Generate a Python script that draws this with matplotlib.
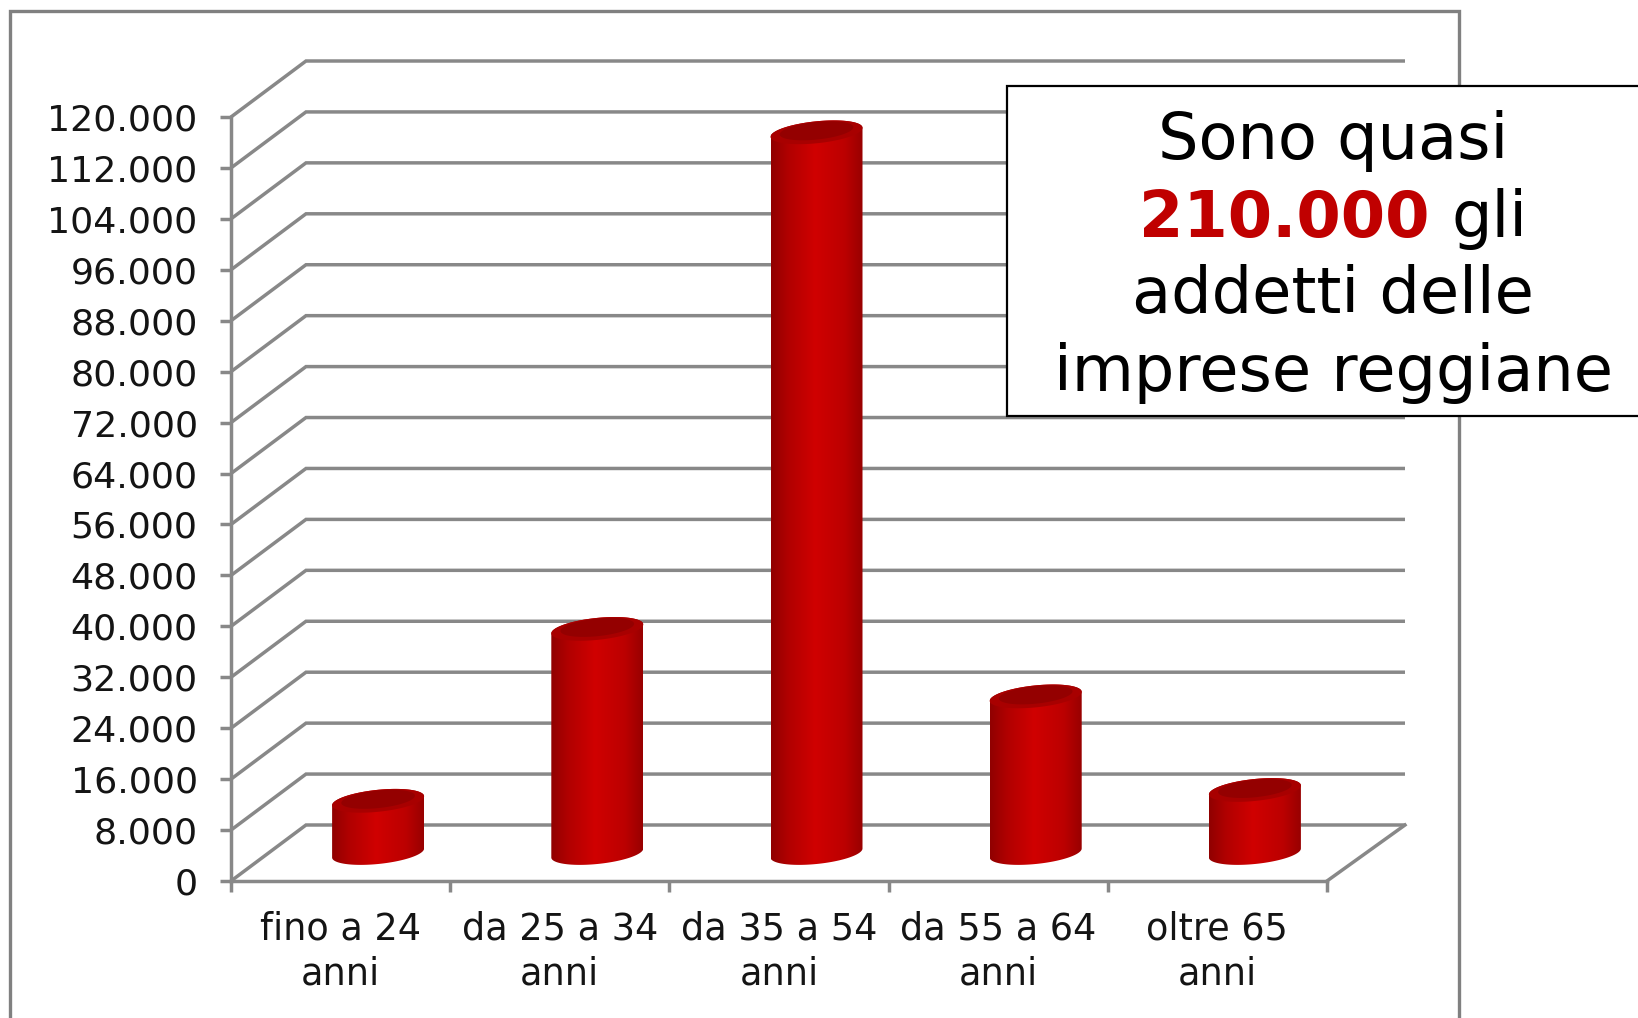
import numpy as np
import matplotlib
matplotlib.use('Agg')
import matplotlib.pyplot as plt
from matplotlib.colors import LinearSegmentedColormap
from matplotlib.patches import Polygon, Rectangle

# valori
categorie = ['fino a 24\nanni', 'da 25 a 34\nanni', 'da 35 a 54\nanni', 'da 55 a 64\nanni', 'oltre 65\nanni']
addetti = [8200, 35200, 113200, 24600, 9900]
tick_valori = list(range(0, 120001, 8000))
tick_etichette = ['0', '8.000', '16.000', '24.000', '32.000', '40.000', '48.000', '56.000',
                  '64.000', '72.000', '80.000', '88.000', '96.000', '104.000', '112.000', '120.000']

W, H = 1638, 1018
X0, X1 = 231, 1327   # pixel dell'asse frontale
Y0, Y1 = 881, 117
GRIGIO = '#888888'
TESTO = '#141414'

plt.rcParams['font.family'] = ['DejaVu Sans']
fig = plt.figure(figsize=(W / 100, H / 100), dpi=100, facecolor='white')

# cornice esterna
fig.add_artist(Rectangle((10 / W, -0.05), 1449 / W, 1.05 - 11 / H, transform=fig.transFigure,
                         fill=False, edgecolor='#808080', linewidth=2.4))

ax = fig.add_axes([X0 / W, 1 - Y0 / H, (X1 - X0) / W, (Y0 - Y1) / H])
ax.patch.set_alpha(0)
ax.set_xlim(0, 5)
ax.set_ylim(0, 120000)

# da pixel a unita' dei dati
sx = 5 / (X1 - X0)
sy = 120000 / (Y0 - Y1)
dx = 75 * sx
dy = 56 * sy
dx_fine = 78 * sx

# griglia in prospettiva
for v in tick_valori:
    ax.plot([0, dx, 5 + dx_fine], [v, v + dy, v + dy], color=GRIGIO, lw=2.5, clip_on=False, zorder=1,
            solid_joinstyle='miter', solid_capstyle='butt')
ax.plot([5, 5 + dx_fine], [0, dy], color=GRIGIO, lw=2.5, clip_on=False, zorder=1)

# cilindri
gradiente = LinearSegmentedColormap.from_list('rosso', [(0, '#900000'), (0.18, '#b00000'), (0.48, '#d00000'),
                                                        (0.8, '#bc0000'), (1, '#980000')])
a = 46 * sx
b = 11 * sy
k = 4.5 * sy
t = np.linspace(0, 2 * np.pi, 200)


def ellisse(cx, cy, scala=1.0, su=0.0):
    return np.column_stack([cx + scala * a * np.cos(t), cy + su + scala * (b * np.sin(t) + k * np.cos(t))])


for i, v in enumerate(addetti):
    cx = i + 0.5 + dx / 2
    base = dy / 2
    top = base + v
    sotto = ellisse(cx, base)
    sopra = ellisse(cx, top)
    # mezzo giro inferiore della base + mezzo giro superiore del tetto
    corpo = np.vstack([sotto[100:], sopra[:100]])
    patch = Polygon(corpo, closed=True, facecolor='none', edgecolor='none', zorder=3)
    ax.add_patch(patch)
    im = ax.imshow(np.linspace(0, 1, 256).reshape(1, -1), cmap=gradiente, aspect='auto', zorder=3,
                   extent=[cx - a, cx + a, base - 15 * sy, top + 15 * sy], clip_on=True)
    im.set_clip_path(patch)
    ax.add_patch(Polygon(sopra, closed=True, facecolor='#a80000', edgecolor='none', zorder=4))
    ax.add_patch(Polygon(ellisse(cx, top, 0.8, 1.5 * sy), closed=True, facecolor='#940000',
                         edgecolor='none', zorder=4))

ax.set_xlim(0, 5)
ax.set_ylim(0, 120000)

# assi
for lato in ['top', 'right']:
    ax.spines[lato].set_visible(False)
for lato in ['left', 'bottom']:
    ax.spines[lato].set_color(GRIGIO)
    ax.spines[lato].set_linewidth(2.5)
    ax.spines[lato].set_zorder(2)
ax.set_yticks(tick_valori, tick_etichette)
ax.set_xticks(range(6))
ax.set_xticklabels([])
ax.set_xticks(np.arange(5) + 0.5, categorie, minor=True)
ax.tick_params(axis='y', length=8, width=2.5, color=GRIGIO, pad=16, labelsize=26.2, labelcolor=TESTO)
ax.tick_params(axis='x', which='major', length=8, width=2.5, color=GRIGIO)
ax.tick_params(axis='x', which='minor', length=0, pad=21, labelsize=26.4, labelcolor=TESTO)
for lab in ax.get_xticklabels(minor=True):
    lab.set_linespacing(1.3)

# riquadro di testo
fig.add_artist(Rectangle((1007 / W, 1 - 416 / H), 700 / W, 330 / H, transform=fig.transFigure,
                         facecolor='white', edgecolor='black', linewidth=1.6, zorder=10))
xc = 1333 / W


def riga(x, y_px, s, **kw):
    return fig.text(x, 1 - y_px / H, s, fontsize=46, va='center_baseline', zorder=11, color='black', **kw)


riga(xc, 135, 'Sono quasi', ha='center')
riga(xc, 289, 'addetti delle', ha='center')
riga(xc, 366, 'imprese reggiane', ha='center')

# riga con parte in grassetto rosso
rosso = riga(0, 212, '210.000', fontweight='bold', ha='left')
rosso.set_color('#c00000')
gli = riga(0, 212, 'gli', ha='left')
r = fig.canvas.get_renderer()
l1 = rosso.get_window_extent(r).width
l2 = gli.get_window_extent(r).width
spazio = 22
start = 1333 - (l1 + spazio + l2) / 2
rosso.set_x(start / W)
gli.set_x((start + l1 + spazio) / W)

fig.savefig('out.png', dpi=100, facecolor='white')
